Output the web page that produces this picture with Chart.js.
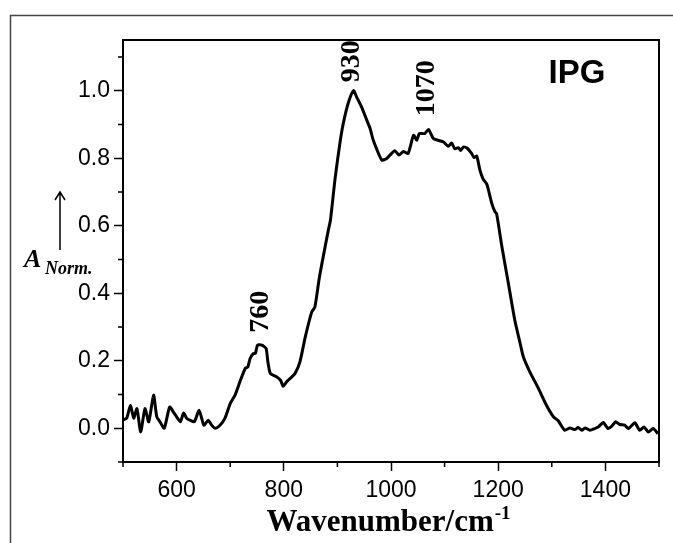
<!DOCTYPE html>
<html>
<head>
<meta charset="utf-8">
<script src="https://cdn.jsdelivr.net/npm/chart.js"></script>
<style>
  body { margin: 0; background: #fff; }
  canvas { display: block; }
</style>
</head>
<body>
<canvas id="myChart" width="673" height="543"></canvas>
<script>
// spectrum
var wavenumbers = [
  501, 507, 514, 520, 526, 533, 541, 548, 557, 563, 569, 577, 587, 594, 600,
  607, 613, 619, 625, 633, 642, 651, 659, 665, 672, 681, 690, 700, 709, 718,
  728, 733, 737, 743, 747, 751, 759, 767, 770, 775, 787, 794, 799, 805, 815,
  821, 830, 840, 852, 858, 866, 874, 883, 887, 896, 905, 911, 920, 930, 936,
  945, 955, 961, 966, 973, 983, 992, 998, 1007, 1015, 1023, 1032, 1042, 1048, 1053,
  1063, 1070, 1079, 1088, 1098, 1107, 1113, 1119, 1126, 1130, 1135, 1141, 1150, 1155, 1160,
  1166, 1172, 1179, 1188, 1194, 1197, 1207, 1219, 1231, 1241, 1247, 1259, 1275, 1290, 1303,
  1312, 1324, 1334, 1343, 1349, 1356, 1362, 1371, 1380, 1387, 1396, 1405, 1412, 1419, 1427,
  1436, 1443, 1455, 1464, 1472, 1480, 1489, 1498
];
var absorbance = [
  0.025, 0.030, 0.068, 0.030, 0.058, -0.011, 0.058, 0.019, 0.098, 0.034, 0.019, 0.000, 0.063, 0.048, 0.034,
  0.019, 0.045, 0.029, 0.024, 0.019, 0.053, 0.009, 0.024, 0.010, 0.000, 0.009, 0.029, 0.073, 0.098, 0.137,
  0.177, 0.182, 0.206, 0.221, 0.222, 0.246, 0.246, 0.236, 0.200, 0.162, 0.152, 0.142, 0.124, 0.137, 0.152,
  0.162, 0.196, 0.270, 0.344, 0.359, 0.443, 0.512, 0.586, 0.616, 0.744, 0.848, 0.903, 0.962, 1.000, 0.981,
  0.952, 0.912, 0.888, 0.858, 0.828, 0.794, 0.799, 0.809, 0.822, 0.809, 0.820, 0.814, 0.868, 0.853, 0.873,
  0.873, 0.885, 0.858, 0.853, 0.848, 0.835, 0.845, 0.828, 0.831, 0.823, 0.833, 0.831, 0.815, 0.802, 0.806,
  0.764, 0.738, 0.722, 0.666, 0.641, 0.636, 0.537, 0.429, 0.320, 0.251, 0.211, 0.167, 0.118, 0.068, 0.034,
  0.022, -0.006, 0.001, -0.004, 0.002, -0.006, 0.001, -0.006, -0.001, 0.004, 0.017, -0.001, 0.006, 0.019, 0.011,
  0.009, -0.001, 0.016, -0.006, 0.004, -0.011, -0.001, -0.016
];

// peak annotations (wavenumber, label centre height in absorbance units)
var peakLabels = ['760', '930', '1070'];
var peakX = [760, 930, 1070];
var peakLabelY = [0.345, 1.087, 1.007];

var sampleName = 'IPG';

var points = [];
for (var i = 0; i < wavenumbers.length; ++i) {
    points.push({x: wavenumbers[i], y: absorbance[i]});
}

var serif = '"Liberation Serif", "Times New Roman", serif';
var sans = '"Liberation Sans", Arial, sans-serif';

function isMajorX(v) { return Math.round(v) % 200 === 0; }
function isMajorY(v) { return Math.round(v * 10) % 2 === 0; }

var extras = {
    id: 'extras',
    afterDraw: function(chart) {
        var ctx = chart.ctx;
        var area = chart.chartArea;
        var xs = chart.scales.x, ys = chart.scales.y;
        ctx.save();

        // outer frame
        ctx.strokeStyle = '#444';
        ctx.lineWidth = 1.5;
        ctx.strokeRect(10.5, 15.5, 800, 700);

        // plot frame
        ctx.strokeStyle = '#000';
        ctx.lineWidth = 2;
        ctx.strokeRect(area.left, area.top, area.right - area.left, area.bottom - area.top);

        // minor ticks
        ctx.lineWidth = 1.5;
        ctx.beginPath();
        xs.ticks.forEach(function(t) {
            if (!isMajorX(t.value)) {
                var px = xs.getPixelForValue(t.value);
                ctx.moveTo(px, area.bottom);
                ctx.lineTo(px, area.bottom + 5);
            }
        });
        ys.ticks.forEach(function(t) {
            if (!isMajorY(t.value)) {
                var py = ys.getPixelForValue(t.value);
                ctx.moveTo(area.left, py);
                ctx.lineTo(area.left - 5, py);
            }
        });
        ctx.stroke();

        // y label with arrow
        ctx.fillStyle = '#000';
        ctx.textAlign = 'left';
        ctx.textBaseline = 'alphabetic';
        ctx.font = 'italic bold 26px ' + serif;
        ctx.fillText('A', 24, 267);
        ctx.font = 'italic bold 18px ' + serif;
        ctx.fillText('Norm.', 45, 274);
        ctx.lineWidth = 1.5;
        ctx.beginPath();
        ctx.moveTo(60, 250);
        ctx.lineTo(60, 192);
        ctx.moveTo(55, 200);
        ctx.lineTo(60, 192);
        ctx.lineTo(65, 200);
        ctx.stroke();

        // x title with superscript
        var main = 'Wavenumber/cm', sup = '-1';
        ctx.font = 'bold 31px ' + serif;
        var w1 = ctx.measureText(main).width;
        ctx.font = 'bold 19px ' + serif;
        var w2 = ctx.measureText(sup).width;
        var start = (area.left + area.right) / 2 - (w1 + w2) / 2 - 3;
        ctx.font = 'bold 31px ' + serif;
        ctx.fillText(main, start, 531);
        ctx.font = 'bold 19px ' + serif;
        ctx.fillText(sup, start + w1 + 1, 519);

        // sample name
        ctx.font = 'bold 33px ' + sans;
        ctx.textAlign = 'center';
        ctx.fillText(sampleName, 577, 83);

        // peak labels, rotated
        ctx.font = 'bold 28px ' + serif;
        ctx.textBaseline = 'middle';
        for (var k = 0; k < peakLabels.length; ++k) {
            ctx.save();
            ctx.translate(xs.getPixelForValue(peakX[k]) - 2, ys.getPixelForValue(peakLabelY[k]));
            ctx.rotate(-Math.PI / 2);
            ctx.fillText(peakLabels[k], 0, 0);
            ctx.restore();
        }
        ctx.restore();
    }
};

var config = {
    type: 'line',
    data: {
        datasets: [{
            label: 'IPG',
            data: points,
            borderColor: '#000',
            borderWidth: 3,
            pointRadius: 0,
            tension: 0.2,
            fill: false
        }]
    },
    options: {
        responsive: false,
        animation: false,
        layout: { padding: { left: 0, top: 40, right: 14, bottom: 0 } },
        plugins: {
            legend: { display: false },
            tooltip: { enabled: false }
        },
        scales: {
            x: {
                type: 'linear',
                min: 500,
                max: 1500,
                afterFit: function(scale) { scale.height = 81; },
                border: { display: true, color: '#000', width: 2 },
                grid: {
                    drawOnChartArea: false,
                    drawTicks: true,
                    tickLength: 9,
                    tickWidth: 1.5,
                    tickColor: function(c) { return isMajorX(c.tick.value) ? '#000' : 'rgba(0,0,0,0)'; }
                },
                ticks: {
                    stepSize: 100,
                    autoSkip: false,
                    maxRotation: 0,
                    padding: 6,
                    color: '#000',
                    font: { family: sans, size: 23 },
                    callback: function(v) {
                        return (isMajorX(v) && v > 500 && v < 1500) ? String(v) : '';
                    }
                }
            },
            y: {
                min: -0.1,
                max: 1.15,
                afterFit: function(scale) { scale.width = 123; },
                border: { display: true, color: '#000', width: 2 },
                grid: {
                    drawOnChartArea: false,
                    drawTicks: true,
                    tickLength: 9,
                    tickWidth: 1.5,
                    tickColor: function(c) { return isMajorY(c.tick.value) ? '#000' : 'rgba(0,0,0,0)'; }
                },
                ticks: {
                    stepSize: 0.1,
                    includeBounds: false,
                    autoSkip: false,
                    padding: 4,
                    color: '#000',
                    font: { family: sans, size: 23 },
                    callback: function(v) {
                        return (isMajorY(v) && v > -0.05) ? v.toFixed(1) : '';
                    }
                }
            }
        }
    },
    plugins: [extras]
};

var myChart = new Chart(document.getElementById('myChart'), config);
</script>
</body>
</html>
